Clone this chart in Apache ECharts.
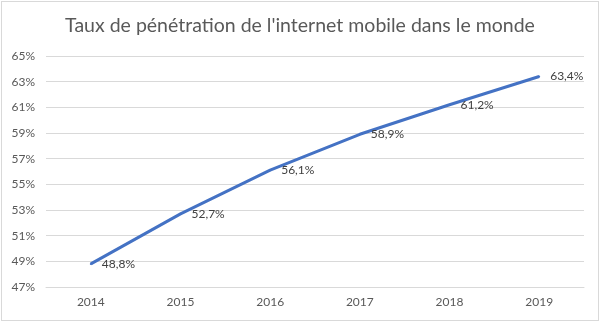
<!DOCTYPE html>
<html>
<head>
<meta charset="utf-8">
<script src="https://cdn.jsdelivr.net/npm/echarts@6/dist/echarts.min.js"></script>
<style>
  html, body { margin: 0; padding: 0; background: #fff; }
  #chart { position: absolute; left: 1px; top: 1px; width: 596px; height: 318px; border: 1px solid #d9d9d9; }
</style>
</head>
<body>
<div id="chart"></div>
<script>
// Mobile internet penetration worldwide, by year (%)
const years = ['2014', '2015', '2016', '2017', '2018', '2019'];
const penetration = [48.8, 52.7, 56.1, 58.9, 61.2, 63.4];
const titleText = "Taux de pénétration de l'internet mobile dans le monde";

const fmt = v => v.toFixed(1).replace('.', ',') + '%';
const font = "Lato, 'Open Sans', sans-serif";

const chart = echarts.init(document.getElementById('chart'), null, { renderer: 'canvas' });
chart.setOption({
  animation: false,
  title: {
    text: titleText,
    left: 'center',
    top: 9,
    textStyle: { fontFamily: font, fontSize: 19.5, fontWeight: 'normal', color: '#595959' }
  },
  grid: { left: 44, right: 14, top: 54, bottom: 33 },
  xAxis: {
    type: 'category',
    data: years,
    boundaryGap: true,
    axisLine: { lineStyle: { color: '#d9d9d9' } },
    axisTick: { show: false },
    axisLabel: { color: '#595959', fontFamily: font, fontSize: 12, margin: 9 }
  },
  yAxis: {
    type: 'value',
    min: 47,
    max: 65,
    interval: 2,
    axisLine: { show: false },
    axisTick: { show: false },
    splitLine: { lineStyle: { color: '#d9d9d9' } },
    axisLabel: { color: '#595959', fontFamily: font, fontSize: 12, margin: 11, formatter: v => v + '%' }
  },
  series: [{
    type: 'line',
    data: penetration,
    symbol: 'circle',
    symbolSize: 2,
    itemStyle: { color: '#4472c4' },
    lineStyle: { color: '#4472c4', width: 3 },
    label: {
      show: true,
      position: 'right',
      distance: 10,
      color: '#404040',
      fontFamily: font,
      fontSize: 12,
      formatter: p => fmt(p.value)
    }
  }]
});
</script>
</body>
</html>
